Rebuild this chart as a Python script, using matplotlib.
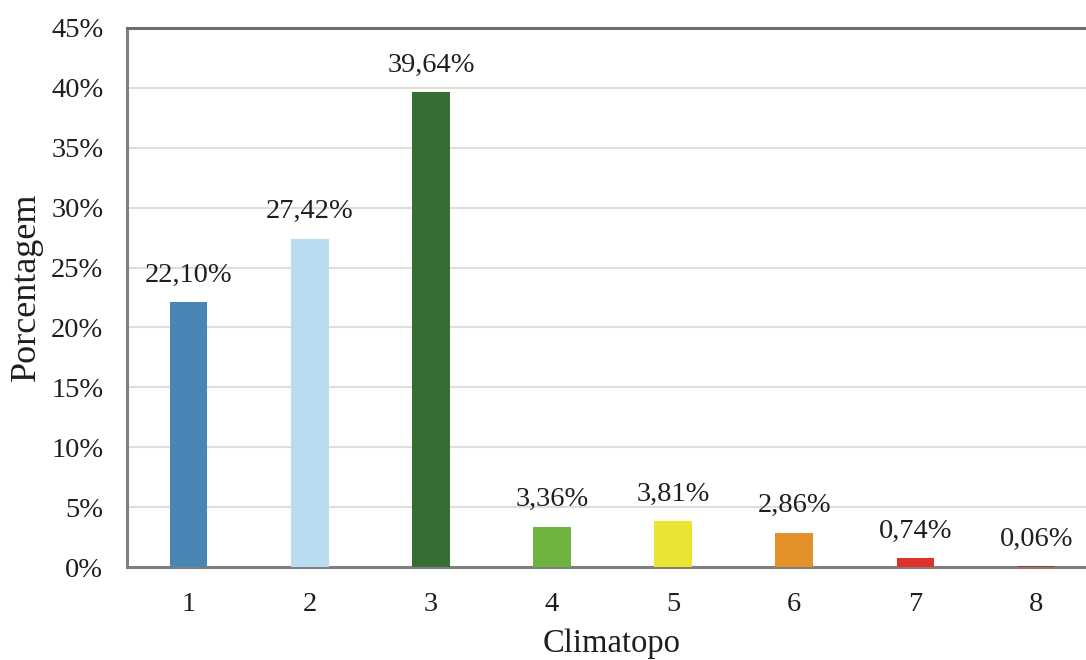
import numpy as np
import matplotlib.pyplot as plt
from matplotlib.ticker import FuncFormatter

plt.rcParams['font.family'] = ['Liberation Serif', 'DejaVu Serif']

climatopos = ['1', '2', '3', '4', '5', '6', '7', '8']
porcentagem = [22.10, 27.42, 39.64, 3.36, 3.81, 2.86, 0.74, 0.06]
cores = ['#4a86b4', '#b9dcf0', '#356d33', '#6db33f', '#ece432',
         '#e3922a', '#df302a', '#a13a32']

fig = plt.figure(figsize=(10.86, 6.6), dpi=100)
ax = fig.add_axes([0.1169, 0.1409, 0.8932, 0.8167])

x = np.arange(1, len(climatopos) + 1)
ax.bar(x, porcentagem, width=0.31, color=cores, zorder=3)

# rótulos com o valor de cada barra (vírgula decimal)
for xi, v in zip(x, porcentagem):
    ax.annotate(f'{v:.2f}%'.replace('.', ','), (xi, v), xytext=(0, 19.5),
                textcoords='offset points', ha='center', va='center',
                fontsize=20.5, color='#1e1e1e')

ax.set_xlim(0.49, 8.5)
ax.set_ylim(0, 45)
ax.set_yticks(np.arange(0, 46, 5))
ax.yaxis.set_major_formatter(FuncFormatter(lambda v, p: f'{v:.0f}%'))
ax.set_xticks(x)
ax.set_xticklabels(climatopos)
ax.tick_params(length=0, labelsize=20.5, labelcolor='#1e1e1e')
ax.tick_params(axis='y', pad=17)
ax.tick_params(axis='x', pad=18)

ax.grid(axis='y', color='#e2ddd6', linewidth=1.5, zorder=0)
for lado in ['left', 'bottom', 'top']:
    ax.spines[lado].set_color('#7f7f7f')
    ax.spines[lado].set_linewidth(2.2)
ax.spines['top'].set_color('#6e6e6e')
ax.spines['right'].set_visible(False)

ax.set_xlabel('Climatopo', fontsize=23.5, color='#1e1e1e', labelpad=8.5)
ax.set_ylabel('Porcentagem', fontsize=26, color='#1e1e1e', labelpad=6, y=0.52)

fig.savefig('out.png', dpi=100)
